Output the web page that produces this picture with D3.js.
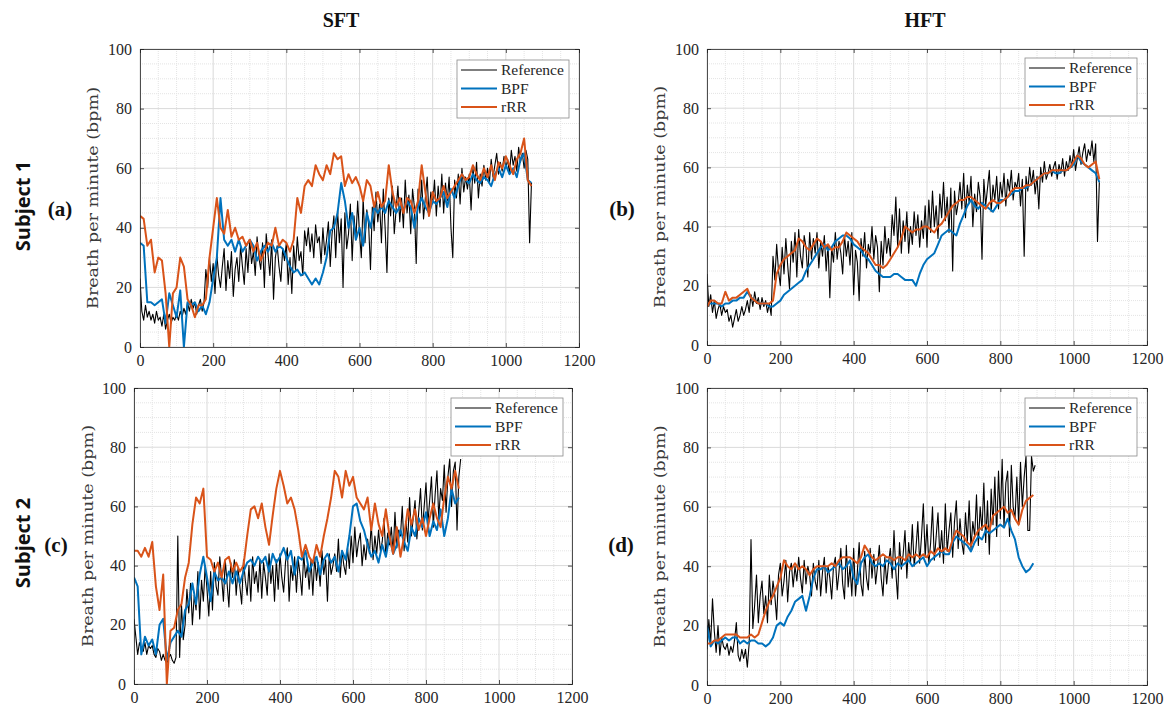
<!DOCTYPE html>
<html><head><meta charset="utf-8">
<script src="https://cdn.jsdelivr.net/npm/d3@7"></script>
<style>
html,body{margin:0;padding:0;background:#fff;}
svg{display:block;}
</style></head>
<body>
<svg id="chart" width="1169" height="708"></svg>
<script>
// ---------------- DATA ----------------
const columnTitles = ["SFT", "HFT"];
const rowTitles = ["Subject 1", "Subject 2"];
const panelLetters = ["(a)", "(b)", "(c)", "(d)"];
const seriesNames = ["Reference", "BPF", "rRR"];
const xTicks = [0, 200, 400, 600, 800, 1000, 1200];
const yTicks = [0, 20, 40, 60, 80, 100];
const yLabel = "Breath per minute (bpm)";
const refStep = 5;   // seconds between reference samples
const estStep = 10;  // seconds between BPF / rRR samples

// Panel (a) Subject 1, SFT
const refA = [23,12,9,14,10,12,9,11,8,12, 9,10,7,11,6,9,11,8,10,9, 11,9,12,10,13,11,15,12,16,13,
  15,11,14,16,12,15,26,20,30,22, 28,18,31,24,20,27,33,19,29,23, 32,17,26,30,22,34,27,21,33,25,
  36,28,32,24,37,30,26,35,20,38, 31,24,36,16,30,34,27,22,33,29, 35,21,30,18,34,26,37,29,32,24,
  39,34,40,32,38,30,41,35,37,28, 40,31,36,42,27,38,44,30,46,35, 43,20,45,33,38,48,29,44,36,49,
  38,30,50,35,46,41,26,47,39,52, 42,48,35,53,40,25,50,44,54,38, 46,54,42,50,40,56,45,51,38,53,
  47,28,53,45,56,43,50,57,44,52, 48,56,44,54,47,58,45,55,49,57, 40,30,56,50,58,48,60,52,57,53,
  58,46,60,55,62,50,58,54,61,56, 60,55,63,57,61,65,58,62,59,64, 60,63,58,66,61,64,59,67,62,65,
  60,66,63,35,55];
const bpfA = [35,34,15,15,14,15,16,8,18,14,10,19,0,15,14,15,12,14,11,15,23,30,50,36,34,36,32,36,32,34,36,34,29,32,34,32,35,32,34,33,30,27,25,26,24,25,23,21,23,21,25,30,39,40,45,55,49,40,45,36,40,34,45,40,47,45,47,45,49,47,45,47,46,49,47,40,47,50,47,45,49,48,50,52,47,53,50,54,58,56,55,58,56,55,57,56,54,58,60,57,61,58,60,57,63,65,56,55];
const rrrA = [44,43,34,36,25,30,29,18,0,18,20,30,27,16,14,10,14,14,16,30,40,50,40,38,46,37,40,36,37,34,36,32,35,29,32,35,34,40,34,36,35,32,36,50,45,54,56,54,61,58,56,61,58,65,63,64,54,58,55,57,54,49,56,54,47,52,47,49,61,52,47,50,45,50,49,45,49,61,52,44,52,49,50,54,50,52,54,56,58,56,57,61,58,56,60,57,61,56,62,60,64,61,58,63,65,70,56,54];

// Panel (b) Subject 1, HFT
const refB = [24,13,17,11,15,9,12,14,10,13, 11,12,8,10,6,9,12,8,10,13, 10,12,15,11,17,13,18,14,16,12,
  16,13,15,11,14,10,30,22,34,25, 20,33,24,36,27,19,35,28,38,23, 39,30,26,37,33,23,38,29,36,31,
  38,26,35,30,37,25,34,16,33,28, 38,29,35,31,24,37,30,35,27,38, 17,32,28,15,36,30,38,26,34,31,
  40,29,37,33,18,35,27,40,31,36, 30,44,37,50,33,46,31,42,35,45, 31,40,34,45,37,44,33,42,36,47,
  33,49,38,52,40,47,36,51,43,55, 42,50,38,53,25,52,44,48,55,46, 58,43,54,48,57,40,51,45,55,50,
  29,56,47,53,59,45,54,49,57,46, 55,50,58,47,56,52,59,49,55,53, 58,47,56,30,57,52,60,54,59,51,
  57,46,60,55,62,56,58,61,57,60, 62,56,61,58,63,57,62,59,64,60, 66,59,63,67,61,65,68,62,66,64,
  69,62,68,35,55];
const bpfB = [14,14,14,14,13,14,14,15,15,16,16,18,16,15,14,14,14,13,13,14,15,17,18,19,20,21,22,25,27,29,31,33,34,32,33,35,36,37,37,36,34,33,32,30,29,27,25,24,23,23,23,24,24,23,22,22,22,20,24,27,29,30,31,34,37,38,39,38,37,41,44,47,49,47,46,48,47,46,45,47,49,49,50,51,52,52,53,53,54,55,56,57,58,58,59,58,58,59,59,60,61,64,62,61,60,59,58,55];
const rrrB = [13,15,15,14,14,18,15,16,16,17,18,19,16,15,14,14,14,14,15,24,27,29,30,31,32,36,35,33,32,34,36,35,33,34,32,33,33,35,38,37,36,35,33,32,31,29,27,27,26,27,29,31,33,36,40,39,38,39,39,40,40,39,38,40,41,43,45,47,48,49,49,50,50,49,48,47,46,48,49,48,48,49,50,52,53,53,53,54,54,55,56,57,58,58,59,59,59,59,59,60,62,64,63,61,60,61,62,56];

// Panel (c) Subject 2, SFT
const refC = [22,16,10,14,12,11,14,10,13,12, 13,10,9,12,11,8,10,8,7,9, 10,8,7,9,50,9,27,15,20,32,
  24,34,20,30,25,38,22,35,28,40, 32,23,38,25,41,33,30,43,36,28, 42,34,26,41,36,42,30,39,33,27,
  42,35,30,40,28,43,34,38,31,42, 29,41,36,30,44,34,40,28,42,32, 44,36,31,41,46,28,40,35,43,31,
  42,37,30,44,36,40,32,42,30,43, 35,41,33,45,37,42,28,44,37,40, 44,38,49,36,45,40,37,46,39,50,
  41,53,43,48,51,40,47,42,49,44, 54,42,50,44,52,45,48,56,43,51, 47,53,44,58,46,52,50,60,45,55,
  48,63,50,56,62,49,58,66,52,60, 68,54,62,70,53,64,72,56,66,62, 74,58,70,76,60,72,75,52,70,76];
const bpfC = [36,33,10,16,13,15,10,20,22,8,14,16,18,16,25,27,34,27,37,43,36,28,38,35,36,34,38,34,38,34,38,41,42,40,43,41,43,38,44,41,43,46,42,45,37,43,42,45,38,41,43,37,42,44,41,43,38,45,42,50,60,61,55,52,47,43,45,41,47,43,50,44,47,52,48,45,53,50,56,53,58,50,55,52,59,50,56,66,61,63];
const rrrC = [45,45,43,46,43,48,33,25,37,0,18,19,25,27,36,41,54,63,61,66,43,42,38,41,36,42,43,38,41,38,40,50,59,60,56,61,53,47,57,66,72,67,61,63,59,52,43,47,43,41,47,43,50,56,63,72,70,63,72,67,70,63,61,59,63,52,61,54,50,59,50,44,53,43,50,59,54,59,52,56,50,56,61,56,53,63,70,66,72,66];

// Panel (d) Subject 2, HFT
const refD = [12,22,14,29,18,11,20,10,16,13, 12,14,10,13,11,15,21,10,8,12, 9,12,6,14,49,19,27,37,21,30,
  35,24,30,21,37,27,35,30,22,37, 41,30,35,42,28,38,41,33,40,35, 43,36,31,42,34,40,37,30,41,35,
  32,42,30,38,43,31,40,36,29,40, 43,32,38,46,34,29,47,33,40,30, 46,30,38,48,34,30,45,36,32,46,
  36,44,34,40,47,36,30,43,34,41, 46,36,52,38,29,48,39,44,52,36, 48,41,54,40,46,55,41,50,61,43,
  54,41,48,60,42,50,58,43,52,41, 61,45,52,58,43,55,62,46,56,48, 44,58,48,62,46,55,50,64,47,60,
  52,68,48,62,44,66,54,70,50,72, 56,76,53,68,72,50,74,60,56,70, 54,75,60,70,77,52,52,77,72,74];
const bpfD = [20,13,15,14,15,16,15,16,16,14,15,14,15,15,14,14,13,14,16,20,21,20,23,25,28,29,30,25,30,36,39,39,40,38,39,40,41,39,40,42,36,34,41,43,44,41,40,41,40,42,41,39,41,40,41,42,40,41,42,43,40,42,43,44,45,44,44,48,50,49,48,47,45,48,50,49,52,51,52,53,54,53,56,52,49,43,40,38,39,41];
const rrrD = [14,14,15,15,16,17,17,17,17,16,16,16,17,16,17,21,25,28,30,33,36,42,40,39,41,39,40,39,37,39,40,40,40,40,41,40,42,43,43,43,42,41,43,47,45,43,42,43,44,43,43,42,43,43,42,44,43,44,43,44,43,45,44,46,45,46,45,49,52,51,50,48,47,50,52,53,54,52,57,58,59,60,58,59,56,54,59,62,63,64];

// ---------------- LAYOUT ----------------
const colors = {Reference: "#000000", BPF: "#0072BD", rRR: "#D95319"};
const panels = [
  {letter: panelLetters[0], ref: refA, bpf: bpfA, rrr: rrrA, l: 140, r: 579, t: 49, b: 347, lx: 457, ly: 60, ylx: 93, px: 60, py: 216},
  {letter: panelLetters[1], ref: refB, bpf: bpfB, rrr: rrrB, l: 707, r: 1147, t: 49, b: 345, lx: 1025, ly: 58, ylx: 660, px: 622, py: 216},
  {letter: panelLetters[2], ref: refC, bpf: bpfC, rrr: rrrC, l: 134, r: 572, t: 388, b: 684, lx: 451, ly: 398, ylx: 88, px: 56, py: 552},
  {letter: panelLetters[3], ref: refD, bpf: bpfD, rrr: rrrD, l: 707, r: 1147, t: 388, b: 685, lx: 1025, ly: 398, ylx: 660, px: 621, py: 552}
];

const svg = d3.select("#chart");
const serif = "'Liberation Serif', 'Times New Roman', serif";

// Column titles
svg.selectAll("text.coltitle").data(columnTitles).join("text")
  .attr("class", "coltitle")
  .attr("x", (d, i) => i === 0 ? 341 : 925).attr("y", 27)
  .attr("text-anchor", "middle")
  .style("font-family", serif).style("font-weight", "bold").style("font-size", "20px")
  .attr("fill", "#111").text(d => d);

// Row titles (rotated)
svg.selectAll("text.rowtitle").data(rowTitles).join("text")
  .attr("class", "rowtitle")
  .attr("transform", (d, i) => `translate(30,${i === 0 ? 206 : 543}) rotate(-90)`)
  .attr("text-anchor", "middle")
  .style("font-family", "'Open Sans', 'Noto Sans', sans-serif").style("font-weight", "bold").style("font-size", "20px")
  .attr("fill", "#111").text(d => d);

panels.forEach((p, pi) => {
  const x = d3.scaleLinear().domain([0, 1200]).range([p.l, p.r]);
  const y = d3.scaleLinear().domain([0, 100]).range([p.b, p.t]);
  const g = svg.append("g");

  const cid = "clip" + pi;
  svg.append("clipPath").attr("id", cid).append("rect")
    .attr("x", p.l).attr("y", p.t).attr("width", p.r - p.l).attr("height", p.b - p.t);

  // minor grid
  const minorX = d3.range(0, 1201, 50).filter(v => v % 200 !== 0);
  const minorY = d3.range(0, 101, 5).filter(v => v % 20 !== 0);
  g.append("g").selectAll("line").data(minorX).join("line")
    .attr("x1", d => x(d)).attr("x2", d => x(d)).attr("y1", p.t).attr("y2", p.b)
    .attr("stroke", "#e4e4e4").attr("stroke-width", 1).attr("stroke-dasharray", "1,1");
  g.append("g").selectAll("line").data(minorY).join("line")
    .attr("y1", d => y(d)).attr("y2", d => y(d)).attr("x1", p.l).attr("x2", p.r)
    .attr("stroke", "#e4e4e4").attr("stroke-width", 1).attr("stroke-dasharray", "1,1");
  // major grid
  g.append("g").selectAll("line").data(xTicks).join("line")
    .attr("x1", d => x(d)).attr("x2", d => x(d)).attr("y1", p.t).attr("y2", p.b)
    .attr("stroke", "#dadada").attr("stroke-width", 1);
  g.append("g").selectAll("line").data(yTicks).join("line")
    .attr("y1", d => y(d)).attr("y2", d => y(d)).attr("x1", p.l).attr("x2", p.r)
    .attr("stroke", "#dadada").attr("stroke-width", 1);

  // lines
  const mkLine = step => d3.line().x((d, i) => x(i * step)).y(d => y(d));
  const lg = g.append("g").attr("clip-path", `url(#${cid})`);
  lg.append("path").datum(p.ref).attr("d", mkLine(refStep))
    .attr("fill", "none").attr("stroke", colors.Reference).attr("stroke-width", 1.1).attr("stroke-linejoin", "round");
  lg.append("path").datum(p.bpf).attr("d", mkLine(estStep))
    .attr("fill", "none").attr("stroke", colors.BPF).attr("stroke-width", 2).attr("stroke-linejoin", "round");
  lg.append("path").datum(p.rrr).attr("d", mkLine(estStep))
    .attr("fill", "none").attr("stroke", colors.rRR).attr("stroke-width", 2).attr("stroke-linejoin", "round");

  // axes (ticks inside, MATLAB style box)
  const axColor = "#262626";
  const xb = g.append("g").attr("transform", `translate(0,${p.b})`)
    .call(d3.axisBottom(x).tickValues(xTicks).tickSize(-4).tickPadding(8).tickFormat(d3.format("d")));
  const xt = g.append("g").attr("transform", `translate(0,${p.t})`)
    .call(d3.axisTop(x).tickValues(xTicks).tickSize(-4).tickFormat(""));
  const yl = g.append("g").attr("transform", `translate(${p.l},0)`)
    .call(d3.axisLeft(y).tickValues(yTicks).tickSize(-4).tickPadding(8).tickFormat(d3.format("d")));
  const yr = g.append("g").attr("transform", `translate(${p.r},0)`)
    .call(d3.axisRight(y).tickValues(yTicks).tickSize(-4).tickFormat(""));
  [xb, xt, yl, yr].forEach(a => {
    a.select(".domain").attr("stroke", axColor).attr("stroke-width", 0.8);
    a.selectAll(".tick line").attr("stroke", axColor).attr("stroke-width", 0.8);
    a.selectAll("text").style("font-family", serif).style("font-size", "16px").attr("fill", axColor);
  });

  // y label
  g.append("text")
    .attr("transform", `translate(${p.ylx},${(p.t + p.b) / 2}) rotate(-90)`)
    .attr("text-anchor", "middle").attr("dy", "0.35em")
    .style("font-family", "'DejaVu Serif', serif").style("font-size", "14.5px").attr("fill", "#3a3a3a")
    .attr("textLength", 222).attr("lengthAdjust", "spacingAndGlyphs")
    .text(yLabel);

  // legend
  const lw = 112, lh = 58;
  const leg = g.append("g").attr("transform", `translate(${p.lx},${p.ly})`);
  leg.append("rect").attr("width", lw).attr("height", lh).attr("fill", "#fff")
    .attr("stroke", "#8a8a8a").attr("stroke-width", 0.8);
  seriesNames.forEach((s, i) => {
    const yy = 10 + i * 18.5;
    leg.append("line").attr("x1", 4).attr("x2", 40).attr("y1", yy).attr("y2", yy)
      .attr("stroke", colors[s]).attr("stroke-width", i === 0 ? 1.2 : 2);
    leg.append("text").attr("x", 44).attr("y", yy).attr("dy", "0.35em")
      .style("font-family", serif).style("font-size", "15.5px").attr("fill", axColor).text(s);
  });

  // panel letter
  svg.append("text").attr("x", p.px).attr("y", p.py).attr("text-anchor", "middle")
    .style("font-family", serif).style("font-weight", "bold").style("font-size", "21px")
    .attr("fill", "#111").text(p.letter);
});
</script>
</body></html>
